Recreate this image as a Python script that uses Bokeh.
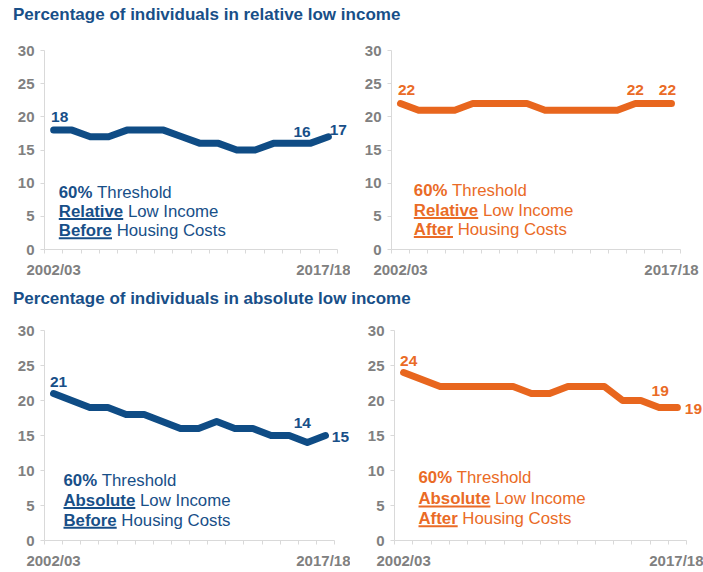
from bokeh.plotting import figure
from bokeh.layouts import column, row
from bokeh.models import Div, FixedTicker, Label
from bokeh.core.properties import value
from bokeh.embed import file_html
from bokeh.resources import INLINE

# ---------------- data ----------------
x_labels = ["2002/03", "2003/04", "2004/05", "2005/06", "2006/07", "2007/08",
            "2008/09", "2009/10", "2010/11", "2011/12", "2012/13", "2013/14",
            "2014/15", "2015/16", "2016/17", "2017/18"]
rel_bhc = [18, 18, 17, 17, 18, 18, 18, 17, 16, 16, 15, 15, 16, 16, 16, 17]
rel_ahc = [22, 21, 21, 21, 22, 22, 22, 22, 21, 21, 21, 21, 21, 22, 22, 22]
abs_bhc = [21, 20, 19, 19, 18, 18, 17, 16, 16, 17, 16, 16, 15, 15, 14, 15]
abs_ahc = [24, 23, 22, 22, 22, 22, 22, 21, 21, 22, 22, 22, 20, 20, 19, 19]
y_ticks = [0, 5, 10, 15, 20, 25, 30]
title_rel = "Percentage of individuals in relative low income"
title_abs = "Percentage of individuals in absolute low income"

BLUE = "#0F4C85"
BLUE_T = "#184F88"
ORANGE = "#E8661E"
ORANGE_T = "#EA6B26"
GRAY = "#808080"
AXIS = "#D9D9D9"
FONT = "Liberation Sans"
FS = 16.8  # annotation font size (px)

# em widths of Liberation Sans Bold for bold words
EM_BOLD = {"60%": 2.001, "Relative": 3.835, "Absolute": 4.278,
           "Before": 3.167, "After": 2.333}
SPACE = 0.278


def make_panel(vals, color, tcolor, width, height, bl, fw16, bt, bb,
               labels, ann_x, ann_y, words):
    n = len(vals)
    ux = fw16 / n                      # px per x unit
    ext = (width - bl - 1) / ux - n    # extra room right of the axis for labels
    fh = height - bt - bb
    br = width - bl - int(round(ux * (n + ext)))
    xs = list(range(n))
    p = figure(width=width, height=height, output_backend="svg",
               toolbar_location=None, x_range=(-0.5, n - 0.5 + ext),
               y_range=(0, 30),
               min_border_left=bl, min_border_right=br, min_border_top=bt,
               min_border_bottom=bb)
    p.outline_line_color = None
    p.grid.visible = False
    p.background_fill_color = "white"
    p.border_fill_color = "white"

    # axes
    xa = p.xaxis[0]
    xa.bounds = (-0.5, n - 0.5)
    xa.ticker = FixedTicker(ticks=[0, n - 1],
                            minor_ticks=[i - 0.5 for i in range(n + 1)])
    xa.major_label_overrides = {0: x_labels[0], n - 1: x_labels[-1]}
    xa.major_tick_line_color = None
    xa.major_tick_out = 0
    xa.major_tick_in = 0
    xa.minor_tick_out = 4
    xa.minor_tick_in = 0
    xa.minor_tick_line_color = AXIS
    xa.axis_line_color = AXIS
    xa.major_label_standoff = 7
    ya = p.yaxis[0]
    ya.ticker = FixedTicker(ticks=y_ticks, minor_ticks=[])
    ya.major_tick_out = 4
    ya.major_tick_in = 0
    ya.major_tick_line_color = AXIS
    ya.minor_tick_line_color = None
    ya.axis_line_color = AXIS
    ya.major_label_standoff = 6
    for a in (xa, ya):
        a.major_label_text_font = FONT
        a.major_label_text_font_style = "bold"
        a.major_label_text_font_size = "15px"
        a.major_label_text_color = GRAY

    # line
    p.line(xs, vals, line_color=color, line_width=7, line_join="round",
           line_cap="round")

    # data labels
    for idx, dx, dy in labels:
        p.add_layout(Label(x=xs[idx], y=vals[idx], text=str(vals[idx]),
                           x_offset=dx, y_offset=-dy, text_align="center",
                           text_baseline="middle", text_color=tcolor,
                           text_font=FONT, text_font_style="bold",
                           text_font_size="15.5px"))

    # annotation block
    uy = fh / 30.0       # px per y unit
    for (bold, rest, underline), yy in zip(words, ann_y):
        bw = EM_BOLD[bold] * FS
        p.text(x=[ann_x], y=[yy], text=[bold], text_align="left",
               text_baseline="middle", text_color=tcolor,
               text_font=value(FONT), text_font_style="bold",
               text_font_size=f"{FS}px")
        p.text(x=[ann_x], y=[yy], text=[rest], x_offset=bw + SPACE * FS,
               text_align="left", text_baseline="middle", text_color=tcolor,
               text_font=value(FONT), text_font_size=f"{FS}px")
        if underline:
            uyv = yy - 7.6 / uy
            p.segment(x0=[ann_x], y0=[uyv], x1=[ann_x + bw / ux], y1=[uyv],
                      line_color=tcolor, line_width=2)
    return p


words_rb = [("60%", "Threshold", False), ("Relative", "Low Income", True),
            ("Before", "Housing Costs", True)]
words_ra = [("60%", "Threshold", False), ("Relative", "Low Income", True),
            ("After", "Housing Costs", True)]
words_ab = [("60%", "Threshold", False), ("Absolute", "Low Income", True),
            ("Before", "Housing Costs", True)]
words_aa = [("60%", "Threshold", False), ("Absolute", "Low Income", True),
            ("After", "Housing Costs", True)]

p1 = make_panel(rel_bhc, BLUE, BLUE_T, 350, 255, 44, 293, 20, 36,
                [(0, 6, -13), (14, -8, -11), (15, 10, -7)],
                0.28, [8.64, 5.73, 2.86], words_rb)
p2 = make_panel(rel_ahc, ORANGE, ORANGE_T, 353, 255, 41, 289, 11, 35,
                [(0, 6, -14), (13, 0, -14), (15, -4, -14)],
                0.735, [8.85, 5.84, 2.97], words_ra)
p3 = make_panel(abs_bhc, BLUE, BLUE_T, 350, 260, 44, 290, 18, 31,
                [(0, 5, -12), (14, -5, -20), (15, 15, 1)],
                0.548, [8.57, 5.73, 2.89], words_ab)
p4 = make_panel(abs_ahc, ORANGE, ORANGE_T, 353, 260, 44, 292, 16, 32,
                [(0, 5, -12), (14, 1, -17), (15, 16, 1)],
                0.815, [8.96, 5.94, 3.11], words_aa)


def title_div(txt, h):
    return Div(text=(f'<div style="font-family:\'{FONT}\';font-weight:bold;'
                     f'font-size:17px;color:{BLUE_T};padding-left:13px;'
                     f'line-height:{h}px;height:{h}px;white-space:nowrap">'
                     f'{txt}</div>'),
               width=703, height=h, margin=(0, 0, 0, 0))


layout = column(title_div(title_rel, 30), row(p1, p2, spacing=0),
                title_div(title_abs, 27), row(p3, p4, spacing=0), spacing=0)

open("out.html", "w").write(file_html(layout, INLINE))
